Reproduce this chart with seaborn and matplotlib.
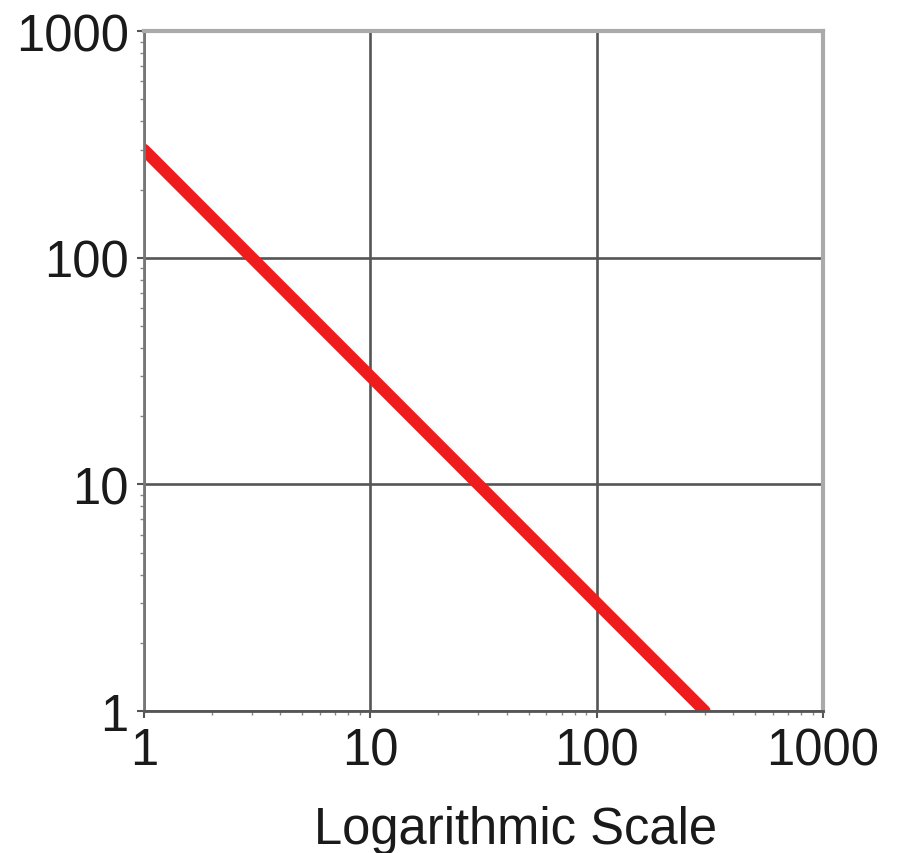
import matplotlib
matplotlib.use("Agg")
import matplotlib.pyplot as plt
import seaborn as sns
import pandas as pd
from matplotlib.ticker import LogLocator, NullFormatter, FixedLocator, FixedFormatter

# data: a straight power-law line on log-log axes
x_vals = [1, 300]
y_vals = [300, 1]
tick_vals = [1, 10, 100, 1000]
tick_labels = ["1", "10", "100", "1000"]

df = pd.DataFrame({"x": x_vals, "y": y_vals})

sns.set_theme(style="white")
plt.rcParams['font.family'] = ['Liberation Sans', 'DejaVu Sans']

fig = plt.figure(figsize=(8.97, 8.54), dpi=100)
ax = fig.add_axes([0.1605, 0.1663, 0.757, 0.796])

sns.lineplot(data=df, x="x", y="y", color="#ee1c1c", linewidth=8.6, ax=ax,
             solid_capstyle="round")

ax.set_xscale("log")
ax.set_yscale("log")
ax.set_xlim(1, 1000)
ax.set_ylim(1, 1000)

ax.xaxis.set_major_locator(FixedLocator(tick_vals))
ax.xaxis.set_major_formatter(FixedFormatter(tick_labels))
ax.yaxis.set_major_locator(FixedLocator(tick_vals))
ax.yaxis.set_major_formatter(FixedFormatter(tick_labels))
for axis in (ax.xaxis, ax.yaxis):
    axis.set_minor_locator(LogLocator(base=10, subs=range(2, 10)))
    axis.set_minor_formatter(NullFormatter())

ax.grid(True, which="major", color="#555555", linewidth=1.9)
ax.set_axisbelow(True)

# seaborn's white style hides ticks, turn them back on
ax.tick_params(which="both", bottom=True, left=True, top=False, right=False)
ax.tick_params(which="major", direction="out", length=5, width=1.5,
               color="#555555", labelsize=36.5, labelcolor="#1a1a1a")
ax.tick_params(axis="x", which="major", pad=6)
ax.tick_params(axis="y", which="major", pad=6)
ax.tick_params(which="minor", direction="out", length=3, width=1,
               color="#888888")

ax.spines["left"].set_color("#777777")
ax.spines["left"].set_linewidth(2)
ax.spines["bottom"].set_color("#555555")
ax.spines["bottom"].set_linewidth(2)
ax.spines["top"].set_color("#aaaaaa")
ax.spines["top"].set_linewidth(3)
ax.spines["right"].set_color("#aaaaaa")
ax.spines["right"].set_linewidth(3)

ax.set_ylabel("")
ax.set_xlabel("Logarithmic Scale", fontsize=36.5, color="#1a1a1a")
ax.xaxis.set_label_coords(0.547, -0.138)

fig.savefig("out.png", dpi=100)
